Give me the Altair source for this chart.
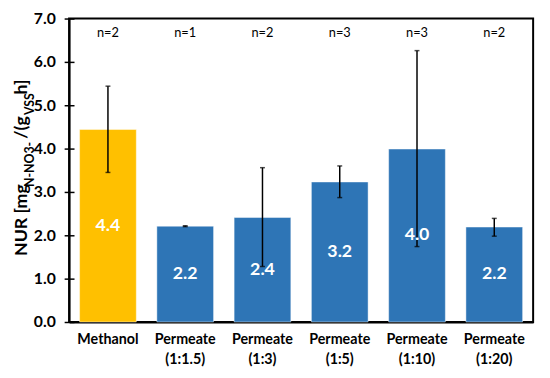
import altair as alt
import pandas as pd

categories = ["Methanol", "Permeate (1:1.5)", "Permeate (1:3)", "Permeate (1:5)",
              "Permeate (1:10)", "Permeate (1:20)"]
nur = [4.44, 2.21, 2.41, 3.23, 3.99, 2.19]
err_low = [3.45, 2.20, 1.28, 2.87, 1.74, 1.98]
err_high = [5.44, 2.22, 3.56, 3.60, 6.26, 2.39]
n_rep = [2, 1, 2, 3, 3, 2]
bar_colors = ["#FFC000", "#2E75B6", "#2E75B6", "#2E75B6", "#2E75B6", "#2E75B6"]
y_ticks = [i * 0.5 for i in range(15)]

title_big = ["NUR [mg", "/(g", " h]"]
title_sub = ["N-NO3-", "VSS"]

FONT = "Lato"
W, H = 471, 308

df = pd.DataFrame({
    "cat": categories, "nur": nur, "lo": err_low, "hi": err_high,
    "n": [f"n={v}" for v in n_rep], "color": bar_colors,
})
df["mid"] = df["nur"] / 2

xenc = alt.X("cat:N", sort=categories, title=None,
             scale=alt.Scale(paddingInner=0.266, paddingOuter=0.136),
             axis=alt.Axis(labelExpr="split(datum.label, ' ')", labelAngle=0,
                           labelFont=FONT, labelFontSize=14.5, labelFontWeight="bold",
                           labelColor="black", labelPadding=11, labelLineHeight=20,
                           labelBaseline="top",
                           ticks=False, domainColor="black", domainWidth=2))
yscale = alt.Scale(domain=[0, 7], nice=False)

base = alt.Chart(df)

bars = base.mark_bar(stroke="white", strokeOpacity=0.45, strokeWidth=1).encode(
    x=xenc,
    y=alt.Y("nur:Q", scale=yscale, title=None,
            axis=alt.Axis(values=y_ticks, labelExpr="datum.value % 1 == 0 ? format(datum.value, '.1f') : ''",
                          labelFont=FONT, labelFontSize=16, labelFontWeight="bold",
                          labelColor="black", labelPadding=9, tickSize=5,
                          tickColor="black", tickWidth=1.5,
                          tickOpacity={"expr": "datum.value % 1 == 0 ? 1 : 0"},
                          domainColor="black", domainWidth=2,
                          grid=True, gridColor="black", gridWidth=1.5,
                          gridDash=[5, 2000])),
    color=alt.Color("color:N", scale=None),
)

rules = base.mark_rule(color="black", strokeWidth=1.5).encode(
    x=alt.X("cat:N", sort=categories),
    y=alt.Y("lo:Q", scale=yscale),
    y2="hi:Q",
)
cap_lo = base.mark_tick(color="black", size=5, thickness=1.5).encode(
    x=alt.X("cat:N", sort=categories), y=alt.Y("lo:Q", scale=yscale))
cap_hi = base.mark_tick(color="black", size=5, thickness=1.5).encode(
    x=alt.X("cat:N", sort=categories), y=alt.Y("hi:Q", scale=yscale))

vals = base.mark_text(font=FONT, fontSize=18, fontWeight="bold", color="white",
                      baseline="middle").encode(
    x=alt.X("cat:N", sort=categories),
    y=alt.Y("mid:Q", scale=yscale),
    text=alt.Text("nur:Q", format=".1f"),
)

ntext = base.mark_text(font=FONT, fontSize=13, color="black", baseline="middle").encode(
    x=alt.X("cat:N", sort=categories),
    y=alt.value(15),
    text="n:N",
)

# axis title assembled from pieces (subscripts)
big_y = [241, 122, 77]
sub_y = [171, 98]
title_layers = []
for s, yy in zip(title_big, big_y):
    title_layers.append(
        alt.Chart(pd.DataFrame({"t": [s]})).mark_text(
            font=FONT, fontSize=18, fontWeight="bold", color="black",
            angle=270, align="left", baseline="alphabetic").encode(
            x=alt.value(-43), y=alt.value(yy), text="t:N"))
for s, yy in zip(title_sub, sub_y):
    title_layers.append(
        alt.Chart(pd.DataFrame({"t": [s]})).mark_text(
            font=FONT, fontSize=12.5, fontWeight="bold", color="black",
            angle=270, align="left", baseline="alphabetic").encode(
            x=alt.value(-36), y=alt.value(yy), text="t:N"))

chart = alt.layer(bars, rules, cap_lo, cap_hi, vals, ntext, *title_layers).properties(
    width=W, height=H,
    autosize=alt.AutoSizeParams(type="none"),
    padding={"left": 62, "top": 8, "right": 9, "bottom": 45},
).configure_view(stroke="black", strokeWidth=2)

chart.save("out.html", embed_options={"renderer": "svg", "actions": False})
